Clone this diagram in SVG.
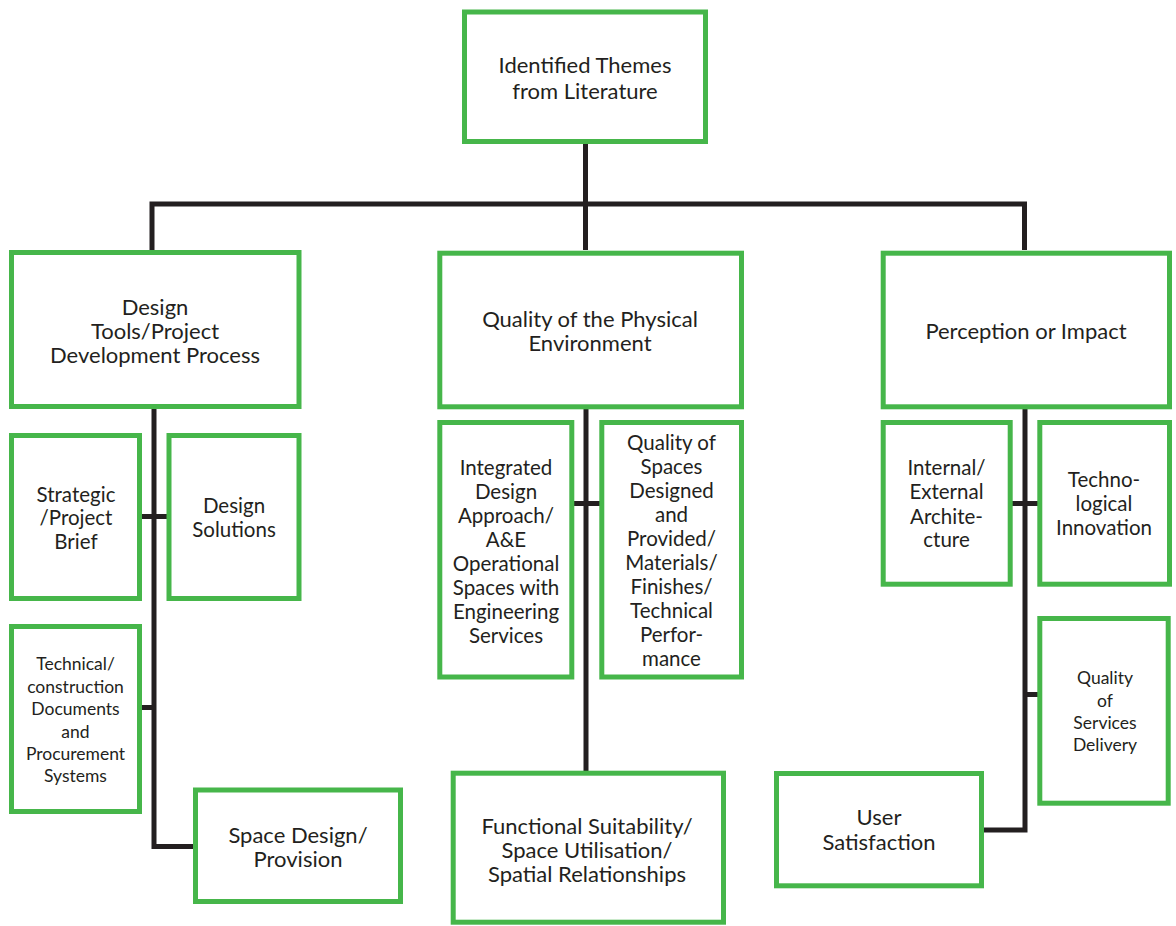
<svg xmlns="http://www.w3.org/2000/svg" width="1176" height="926" viewBox="0 0 1176 926">
<style>
.box{fill:#fff;stroke:#46b64a;stroke-width:5}
.ln{fill:none;stroke:#231f20;stroke-width:5;stroke-linecap:butt;stroke-linejoin:miter}
text{font-family:Lato,"Open Sans",sans-serif;fill:#231f20;text-anchor:middle}
.l{font-size:22px}
.m{font-size:20.5px}
.s{font-size:17.5px}
</style>
<rect width="1176" height="926" fill="#fff"/>
<g id="connectors">
<path class="ln" d="M585.5 144V250M152 204H1024.5M152 201.5V250M1024.5 201.5V250"/>
<path class="ln" d="M154 409V846.5H193M142 516.5H167M142 707.5H154"/>
<path class="ln" d="M586 409V771M574 503.5H600"/>
<path class="ln" d="M1025 409V830H984M1012 503.5H1038M1025 694.5H1038"/>
</g>
<g id="n0"><rect class="box" x="464.5" y="12" width="241" height="129.5"/><text class="l" x="585" y="73">Identified Themes</text><text class="l" x="585" y="99">from Literature</text></g>
<g id="n1"><rect class="box" x="11.5" y="252.5" width="287.5" height="154"/><text class="l" x="155" y="315">Design</text><text class="l" x="155" y="339">Tools/Project</text><text class="l" x="155" y="363">Development Process</text></g>
<g id="n2"><rect class="box" x="439.8" y="253.2" width="301.7" height="153.6"/><text class="l" x="590" y="327">Quality of the Physical</text><text class="l" x="590" y="351">Environment</text></g>
<g id="n3"><rect class="box" x="883.2" y="253.2" width="286.3" height="153.6"/><text class="l" x="1026" y="339">Perception or Impact</text></g>
<g id="n4"><rect class="box" x="11.5" y="435.5" width="128" height="163"/><text class="m" x="76" y="501.5">Strategic</text><text class="m" x="76" y="525">/Project</text><text class="m" x="76" y="548.5">Brief</text></g>
<g id="n5"><rect class="box" x="169" y="435.5" width="130" height="163"/><text class="m" x="234" y="513">Design</text><text class="m" x="234" y="537">Solutions</text></g>
<g id="n6"><rect class="box" x="11.5" y="626.5" width="128" height="185"/><text class="s" x="75.5" y="670">Technical/</text><text class="s" x="75.5" y="692.5">construction</text><text class="s" x="75.5" y="715">Documents</text><text class="s" x="75.5" y="737.5">and</text><text class="s" x="75.5" y="760">Procurement</text><text class="s" x="75.5" y="782">Systems</text></g>
<g id="n7"><rect class="box" x="195.5" y="790" width="205" height="111.5"/><text class="l" x="298" y="843">Space Design/</text><text class="l" x="298" y="867">Provision</text></g>
<g id="n8"><rect class="box" x="439.8" y="422.5" width="132" height="254.5"/><text class="m" x="506" y="474.5">Integrated</text><text class="m" x="506" y="498.5">Design</text><text class="m" x="506" y="522.5">Approach/</text><text class="m" x="506" y="546.5">A&amp;E</text><text class="m" x="506" y="570.5">Operational</text><text class="m" x="506" y="594.5">Spaces with</text><text class="m" x="506" y="618.5">Engineering</text><text class="m" x="506" y="642.5">Services</text></g>
<g id="n9"><rect class="box" x="601.8" y="422.5" width="139.7" height="254.5"/><text class="m" x="671.5" y="450">Quality of</text><text class="m" x="671.5" y="474">Spaces</text><text class="m" x="671.5" y="498">Designed</text><text class="m" x="671.5" y="522">and</text><text class="m" x="671.5" y="546">Provided/</text><text class="m" x="671.5" y="570">Materials/</text><text class="m" x="671.5" y="594">Finishes/</text><text class="m" x="671.5" y="618">Technical</text><text class="m" x="671.5" y="642">Perfor-</text><text class="m" x="671.5" y="666">mance</text></g>
<g id="n10"><rect class="box" x="453.2" y="773.2" width="270.3" height="149"/><text class="l" x="587" y="834">Functional Suitability/</text><text class="l" x="587" y="857.5">Space Utilisation/</text><text class="l" x="587" y="881.5">Spatial Relationships</text></g>
<g id="n11"><rect class="box" x="883.2" y="422.5" width="127" height="161.7"/><text class="m" x="946.5" y="475">Internal/</text><text class="m" x="946.5" y="499">External</text><text class="m" x="946.5" y="523.5">Archite-</text><text class="m" x="946.5" y="547">cture</text></g>
<g id="n12"><rect class="box" x="1039.8" y="422.5" width="129.7" height="161.7"/><text class="m" x="1104" y="487">Techno-</text><text class="m" x="1104" y="511">logical</text><text class="m" x="1104" y="535">Innovation</text></g>
<g id="n13"><rect class="box" x="1039.8" y="618.5" width="128.4" height="184.7"/><text class="s" x="1105" y="684">Quality</text><text class="s" x="1105" y="706.5">of</text><text class="s" x="1105" y="729">Services</text><text class="s" x="1105" y="751">Delivery</text></g>
<g id="n14"><rect class="box" x="776.5" y="773.5" width="205" height="112.3"/><text class="l" x="879" y="825">User</text><text class="l" x="879" y="849.5">Satisfaction</text></g>
</svg>
